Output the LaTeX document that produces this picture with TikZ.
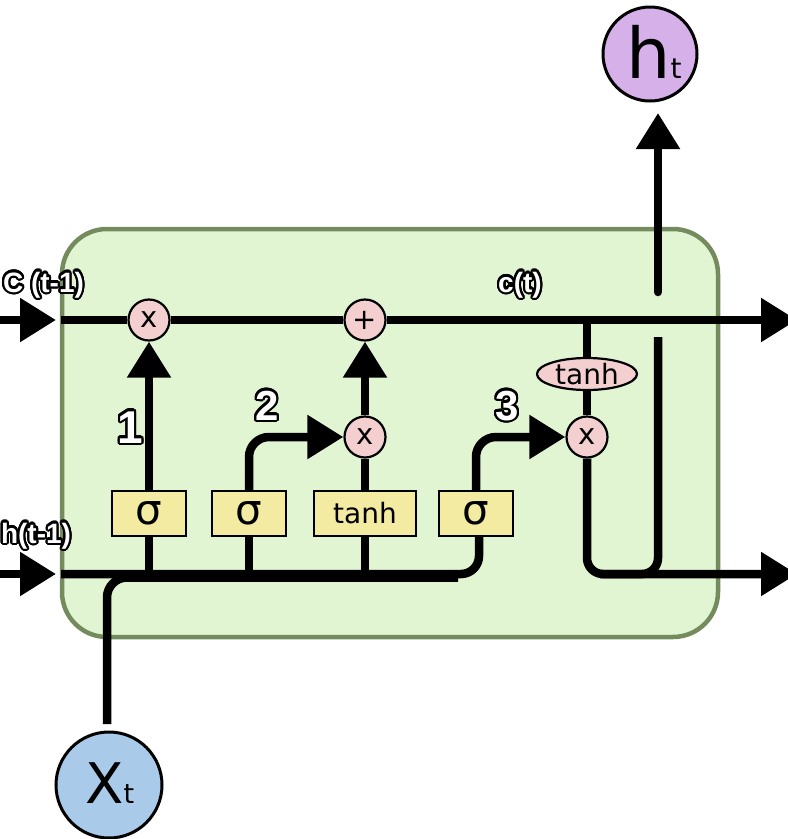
\documentclass[tikz,border=0pt]{standalone}
\usepackage{fontspec}
\setmainfont{DejaVu Sans}
\newfontfamily\lblfont{Liberation Sans}
\usepackage{contour}
\contourlength{2.1pt}
\contournumber{24}
\usetikzlibrary{arrows.meta,shapes.geometric}
\definecolor{greenfill}{HTML}{E2F5D3}
\definecolor{greenborder}{HTML}{748B5E}
\definecolor{yellowc}{HTML}{F3EBA1}
\definecolor{pinkc}{HTML}{F4CFCF}
\definecolor{purplec}{HTML}{D6B0E8}
\definecolor{bluec}{HTML}{A9CBE9}
\tikzset{
  conn/.style={line width=8.5pt, draw=black},
  bigarrow/.style={-{Triangle[length=36pt,width=42pt]}},
  gate/.style={circle, draw=black, line width=2.2pt, fill=pinkc, minimum size=41pt, inner sep=0pt,
    font=\fontsize{29}{29}\selectfont},
  tanhell/.style={ellipse, draw=black, line width=2.2pt, fill=pinkc, minimum width=100pt, minimum height=32pt,
    inner sep=0pt, font=\fontsize{28}{28}\selectfont},
  ybox/.style={rectangle, draw=black, line width=2.5pt, fill=yellowc, minimum width=74pt, minimum height=45pt,
    inner sep=0pt, font=\fontsize{42}{42}\selectfont},
  bigcirc/.style={circle, draw=black, line width=3pt, inner sep=0pt},
  olbl/.style={text=white, inner sep=0pt, anchor=base, font=\lblfont\bfseries\fontsize{28}{28}\selectfont},
  numlbl/.style={text=white, inner sep=0pt, anchor=base, font=\lblfont\bfseries\fontsize{42}{42}\selectfont}
}
\begin{document}
\begin{tikzpicture}[x=1pt,y=-1pt]
\useasboundingbox (0,0) rectangle (788,839);
% cell body
\draw[line width=4.5pt, draw=greenborder, fill=greenfill, rounded corners=45pt] (62,229) rectangle (718,637);

% nodes
\node[gate] (x1) at (149,320) {x};
\node[gate] (plus) at (365,320) {+};
\node[gate] (x2) at (365,437) {x};
\node[gate] (x3) at (587,437) {x};
\node[tanhell] (te) at (587,374) {tanh};
\node[ybox] (b1) at (149,513.5) {σ};
\node[ybox] (b2) at (249,513.5) {σ};
\node[ybox, minimum width=102pt, font=\fontsize{28}{28}\selectfont] (bt) at (365,513.5) {tanh};
\node[ybox] (b4) at (476,513.5) {σ};
\node[bigcirc, fill=purplec, minimum size=94pt] (ht) at (650,54) {};
\node[bigcirc, fill=bluec, minimum size=106pt] (xt) at (109,785) {};
\node[anchor=base west, inner sep=0pt, font=\fontsize{70}{70}\selectfont] (htlab) at (626,78) {h{\fontsize{28}{28}\selectfont t}};
\node[anchor=base west, inner sep=0pt, font=\fontsize{56}{56}\selectfont] (xtlab) at (85,803) {X{\fontsize{27}{27}\selectfont t}};

% coordinates
\coordinate (cinS) at (-5,320);
\coordinate (cinE) at (56,320);
\coordinate (cbeg) at (61,320);
\coordinate (cend) at (797,320);
\coordinate (ctap) at (587,320);
\coordinate (hinS) at (-5,574);
\coordinate (hinE) at (56,574);
\coordinate (hbeg) at (61,574);
\coordinate (b4bot) at (479,536);
\coordinate (htlowtop) at (658,337);
\coordinate (htupbot) at (658,292);
\coordinate (htip) at (658,113);
\coordinate (hout) at (797,574);
\coordinate (ucorner) at (600,574);
\coordinate (xtop) at (107,724);
\coordinate (xjoin) at (458,577.5);

% inputs
\draw[conn,bigarrow] (cinS) -- (cinE);
\draw[conn,bigarrow] (hinS) -- (hinE);
% cell state line
\draw[conn] (cbeg) -- (x1.west);
\draw[conn] (x1.east) -- (plus.west);
\draw[conn,bigarrow] (plus.east) -- (cend);
% gates
\draw[conn,bigarrow] (b1.north) -- (x1.south);
\draw[conn,bigarrow,rounded corners=20pt] (b2.north) |- (x2.west);
\draw[conn,bigarrow] (x2.north) -- (plus.south);
\draw[conn] (bt.north) -- (x2.south);
\draw[conn,bigarrow,rounded corners=20pt] (b4.north) |- (x3.west);
\draw[conn] (ctap) -- (te.north);
\draw[conn] (te.south) -- (x3.north);
\draw[conn,bigarrow,rounded corners=16pt] (x3.south) |- (hout);
\draw[conn,rounded corners=16pt] (htlowtop) |- (ucorner);
\draw[conn,bigarrow,line cap=round] (htupbot) -- (htip);
% hidden input line
\draw[conn,rounded corners=18pt] (hbeg) -| (b4bot);
\draw[conn] (b1.south) -- (b1.south |- hbeg);
\draw[conn] (b2.south) -- (b2.south |- hbeg);
\draw[conn] (bt.south) -- (bt.south |- hbeg);
\draw[conn,rounded corners=20pt] (xtop) |- (xjoin);

% labels
\node[olbl] (lc) at (43.5,292) {\contour{black}{C (t-1)}};
\node[olbl] (lct) at (520,292) {\contour{black}{c(t)}};
\node[olbl] (lh) at (36,543) {\contour{black}{h(t-1)}};
\node[numlbl, font=\lblfont\bfseries\fontsize{46}{46}\selectfont] (n1) at (130,443) {\contour{black}{1}};
\node[numlbl] (n2) at (267,420) {\contour{black}{2}};
\node[numlbl] (n3) at (507,420) {\contour{black}{3}};
\end{tikzpicture}
\end{document}
